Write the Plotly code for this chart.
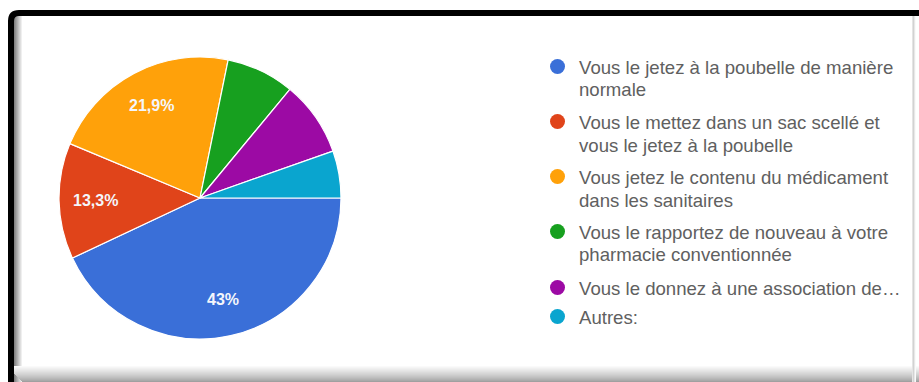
import math
import plotly.graph_objects as go

W, H = 919, 382

# Survey answers (share of respondents, %)
categories = [
    "Vous le jetez à la poubelle de manière normale",
    "Vous le mettez dans un sac scellé et vous le jetez à la poubelle",
    "Vous jetez le contenu du médicament dans les sanitaires",
    "Vous le rapportez de nouveau à votre pharmacie conventionnée",
    "Vous le donnez à une association de…",
    "Autres:",
]
shares = [43, 13.3, 21.9, 7.8, 8.6, 5.4]
legend_lines = [
    ["Vous le jetez à la poubelle de manière", "normale"],
    ["Vous le mettez dans un sac scellé et", "vous le jetez à la poubelle"],
    ["Vous jetez le contenu du médicament", "dans les sanitaires"],
    ["Vous le rapportez de nouveau à votre", "pharmacie conventionnée"],
    ["Vous le donnez à une association de…"],
    ["Autres:"],
]
colors = ["#3a6fd8", "#e0441a", "#ffa10a", "#17a01f", "#9c0aa4", "#0aa5cf"]


def px(x):
    return x / W


def py(y):
    return 1 - y / H


cx, cy, r = 200, 198, 141

fig = go.Figure(
    go.Pie(
        labels=categories,
        values=shares,
        textinfo="none",
        marker=dict(colors=colors, line=dict(color="white", width=1.2)),
        sort=False,
        direction="clockwise",
        rotation=90,
        showlegend=False,
        hoverinfo="label+percent",
        domain=dict(x=[px(cx - r), px(cx + r)], y=[py(cy + r), py(cy - r)]),
    )
)

shapes = []
annotations = []

# percentage labels on the larger slices, placed along each slice's mid-angle
total = sum(shares)
start = 0.0
for v in shares:
    mid = start + v / total * 360 / 2
    start += v / total * 360
    if v < 10:
        continue
    a = math.radians(mid)  # clockwise from 3 o'clock
    lx = cx + 0.74 * r * math.cos(a)
    ly = cy + 0.74 * r * math.sin(a)
    annotations.append(dict(
        x=px(lx), y=py(ly), xref="paper", yref="paper",
        text="<b>" + f"{v:g}".replace(".", ",") + "%</b>",
        showarrow=False, xanchor="center", yanchor="middle",
        font=dict(family="Arial, Liberation Sans", size=16, color="#f4f6fb"),
    ))

# legend: coloured dots with wrapped labels
entry_y = [67, 122, 177, 232, 288, 317]
for lines, col, y0 in zip(legend_lines, colors, entry_y):
    shapes.append(dict(
        type="circle", xref="paper", yref="paper",
        x0=px(550), x1=px(565), y0=py(y0 - 8), y1=py(y0 + 7),
        fillcolor=col, line=dict(width=0),
    ))
    for i, line in enumerate(lines):
        annotations.append(dict(
            x=px(577), y=py(y0 + i * 23), xref="paper", yref="paper",
            text=line, showarrow=False, xanchor="left", yanchor="middle",
            font=dict(family="Arial, Liberation Sans", size=18.6, color="#606060"),
        ))

# frame shadow gradients (left, bottom, right)
steps = 8
for i in range(steps):
    t = i / steps
    g = int(130 + (255 - 130) * t)
    shapes.append(dict(
        type="rect", xref="paper", yref="paper",
        x0=px(14 + i), x1=px(15 + i), y0=py(382), y1=py(16),
        fillcolor=f"rgb({g},{g},{g})", line=dict(width=0), layer="above",
    ))
bsteps = 16
for i in range(bsteps):
    t = i / bsteps
    g = int(160 + (255 - 160) * t ** 0.8)
    shapes.append(dict(
        type="rect", xref="paper", yref="paper",
        x0=px(14 + max(0, 8 - i)), x1=px(919), y0=py(382 - i), y1=py(381 - i),
        fillcolor=f"rgb({g},{g},{g})", line=dict(width=0), layer="above",
    ))
for i, g in enumerate([228, 210, 232, 250]):
    shapes.append(dict(
        type="rect", xref="paper", yref="paper",
        x0=px(912 + i), x1=px(913 + i), y0=py(382), y1=py(16),
        fillcolor=f"rgb({g},{g},{g})", line=dict(width=0), layer="above",
    ))

# black frame: left and top edges with a rounded corner
shapes.append(dict(
    type="path", xref="paper", yref="paper",
    path=(f"M {px(11)},{py(382)} L {px(11)},{py(21)} "
          f"Q {px(11)},{py(13)} {px(19)},{py(13)} L {px(919)},{py(13)}"),
    line=dict(color="black", width=6), layer="above",
))

fig.update_layout(
    width=W, height=H,
    margin=dict(l=0, r=0, t=0, b=0),
    paper_bgcolor="white",
    plot_bgcolor="white",
    shapes=shapes,
    annotations=annotations,
)

fig.write_html("out.html")
